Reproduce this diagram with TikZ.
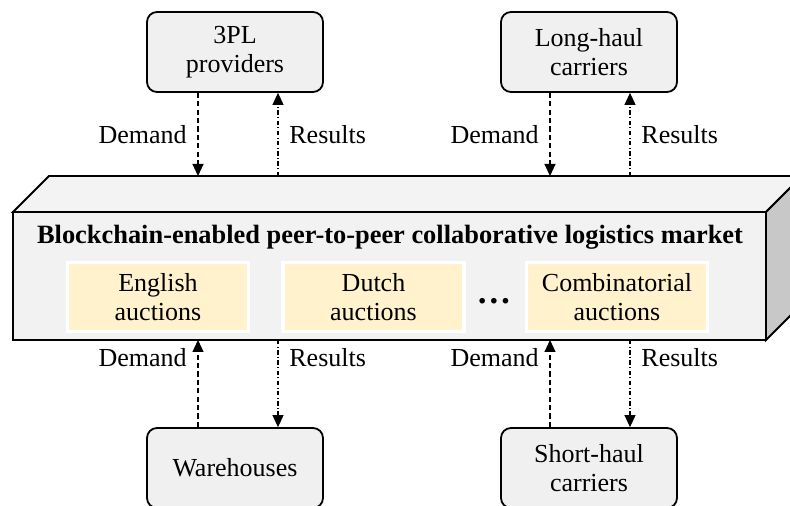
\documentclass[tikz,border=0pt]{standalone}
\usepackage{fontspec}
\setmainfont{Liberation Serif}
\usetikzlibrary{arrows.meta}
\definecolor{boxgray}{HTML}{F0F0F0}
\definecolor{frontgray}{HTML}{F2F2F2}
\definecolor{topgray}{HTML}{F3F3F3}
\definecolor{sidegray}{HTML}{C8C8C8}
\definecolor{auctyellow}{HTML}{FFF2CC}
\tikzset{
  actor/.style={draw=black, fill=boxgray, rounded corners=5pt, line width=0.9pt,
    minimum width=88pt, minimum height=40pt, align=center, inner sep=2pt},
  auct/.style={draw=white, fill=auctyellow, line width=1.6pt,
    minimum width=90.5pt, minimum height=34.5pt, align=center, inner sep=1pt},
  face/.style={draw=black, line width=0.9pt, line join=miter},
  demandarrow/.style={dash pattern=on 2.6pt off 1.6pt, line width=0.55pt, -{Triangle[length=6pt,width=5.5pt]}},
  resultarrow/.style={dash pattern=on 2.2pt off 1.2pt on 0.5pt off 1.2pt, line width=0.55pt, -{Triangle[length=6pt,width=5.5pt]}},
  lbl/.style={inner sep=0pt}
}
\begin{document}
\begin{tikzpicture}[x=0.5pt,y=-0.5pt, font=\fontsize{13}{14.5}\selectfont]
\useasboundingbox (0,0) rectangle (790,506);
% block
\fill[frontgray] (13,212) rectangle (766,340);
\draw[face, fill=topgray] (13,212) -- (49,176) -- (802,176) -- (766,212) -- cycle;
\draw[face, fill=sidegray] (766,212) -- (802,176) -- (802,304) -- (766,340) -- cycle;
\draw[face] (13,212) rectangle (766,340);
\node (title) at (390,237) {\fontsize{13.2}{15}\selectfont\textbf{Blockchain-enabled peer-to-peer collaborative logistics market}};
\node[auct] (eng) at (158,297) {English\\auctions};
\node[auct] (dut) at (373.5,297) {Dutch\\auctions};
\node[auct] (comb) at (617,297) {Combinatorial\\auctions};
\node (dots) at (494,301) {\textbf{\LARGE\dots}};
% actors
\node[actor] (tpl) at (235,52) {3PL\\providers};
\node[actor] (lhc) at (589,52) {Long-haul\\carriers};
\node[actor] (wh) at (235,468) {Warehouses};
\node[actor] (shc) at (589,468) {Short-haul\\carriers};
% anchor points on block
\coordinate (tA) at (198,176);
\coordinate (tB) at (278,176);
\coordinate (tC) at (550,176);
\coordinate (tD) at (630,176);
\coordinate (bA) at (198,340);
\coordinate (bB) at (278,340);
\coordinate (bC) at (550,340);
\coordinate (bD) at (630,340);
% arrows
\draw[demandarrow] (tpl.south -| tA) -- (tA);
\draw[resultarrow] (tB) -- (tpl.south -| tB);
\draw[demandarrow] (lhc.south -| tC) -- (tC);
\draw[resultarrow] (tD) -- (lhc.south -| tD);
\draw[demandarrow] (wh.north -| bA) -- (bA);
\draw[resultarrow] (bB) -- (wh.north -| bB);
\draw[demandarrow] (shc.north -| bC) -- (bC);
\draw[resultarrow] (bD) -- (shc.north -| bD);
% labels
\node[lbl, anchor=east] (ld1) at (187,135) {Demand};
\node[lbl, anchor=west] (lr1) at (289,135) {Results};
\node[lbl, anchor=east] (ld2) at (539,135) {Demand};
\node[lbl, anchor=west] (lr2) at (641,135) {Results};
\node[lbl, anchor=east] (ld3) at (187,358) {Demand};
\node[lbl, anchor=west] (lr3) at (289,358) {Results};
\node[lbl, anchor=east] (ld4) at (539,358) {Demand};
\node[lbl, anchor=west] (lr4) at (641,358) {Results};
\end{tikzpicture}
\end{document}
